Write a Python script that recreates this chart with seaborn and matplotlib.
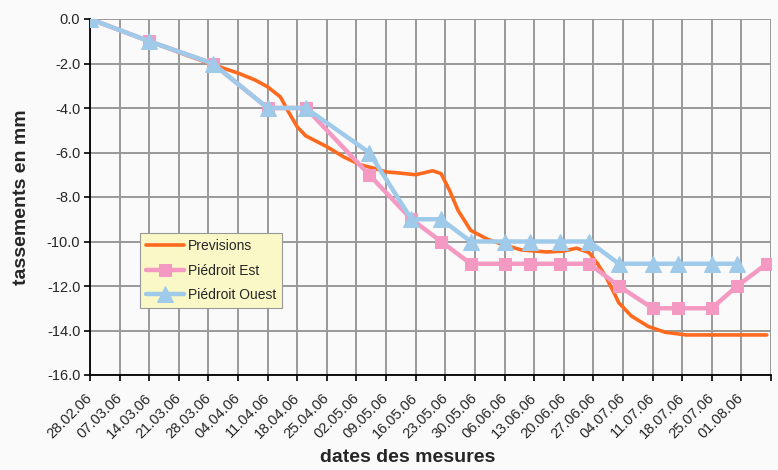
import pandas as pd
import seaborn as sns
import matplotlib.pyplot as plt

# measurement dates (dd.mm.yy)
mesure_dates = ["28.02.06", "14.03.06", "29.03.06", "11.04.06", "20.04.06", "05.05.06",
                "15.05.06", "22.05.06", "29.05.06", "06.06.06", "12.06.06", "19.06.06",
                "26.06.06", "03.07.06", "11.07.06", "17.07.06", "25.07.06", "31.07.06",
                "07.08.06"]
piedroit_est = [0, -1, -2, -4, -4, -7, -9, -10, -11, -11, -11, -11, -11, -12, -13, -13,
                -13, -12, -11]
piedroit_ouest = [0, -1, -2, -4, -4, -6, -9, -9, -10, -10, -10, -10, -10, -11, -11, -11,
                  -11, -11]

# forecast curve
prev_dates = ["28.02.06", "07.03.06", "14.03.06", "21.03.06", "29.03.06", "04.04.06",
              "08.04.06", "11.04.06", "14.04.06", "16.04.06", "18.04.06", "20.04.06",
              "25.04.06", "29.04.06", "03.05.06", "06.05.06", "09.05.06", "12.05.06",
              "16.05.06", "20.05.06", "22.05.06", "24.05.06", "26.05.06", "29.05.06",
              "02.06.06", "06.06.06", "10.06.06", "16.06.06", "20.06.06", "23.06.06",
              "26.06.06", "28.06.06", "30.06.06", "02.07.06", "03.07.06", "06.07.06",
              "10.07.06", "14.07.06", "19.07.06", "26.07.06", "07.08.06"]
previsions = [0, -0.5, -1, -1.5, -2.05, -2.43, -2.74, -3.05, -3.5, -4.2, -4.85, -5.25,
              -5.74, -6.2, -6.56, -6.7, -6.87, -6.92, -7.0, -6.82, -6.95, -7.7, -8.6,
              -9.5, -9.9, -10.16, -10.38, -10.47, -10.43, -10.3, -10.5, -11.0, -11.6,
              -12.35, -12.75, -13.35, -13.82, -14.08, -14.2, -14.2, -14.2]

y_ticks = [0, -2, -4, -6, -8, -10, -12, -14, -16]

to_dt = lambda s: pd.to_datetime(s, format="%d.%m.%y")

sns.set_style("white")
plt.rcParams["font.family"] = ["Liberation Sans", "DejaVu Sans"]

fig = plt.figure(figsize=(7.78, 4.70), dpi=100, facecolor="#fafafa")
ax = fig.add_axes([90 / 778, 1 - 375 / 470, 681 / 778, 356 / 470])
ax.set_facecolor("#fafafa")

orange = "#ff6a1f"
pink = "#f49ac2"
blue = "#9fcaea"

sns.lineplot(x=to_dt(prev_dates), y=previsions, ax=ax, color=orange, lw=2.6,
             label="Previsions", zorder=3)
sns.lineplot(x=to_dt(mesure_dates), y=piedroit_est, ax=ax, color=pink, lw=3.2,
             marker="s", markersize=9, markeredgecolor=pink, label="Piédroit Est", zorder=4)
sns.lineplot(x=to_dt(mesure_dates[:len(piedroit_ouest)]), y=piedroit_ouest, ax=ax,
             color=blue, lw=3.2, marker="^", markersize=11, markeredgecolor=blue,
             label="Piédroit Ouest", zorder=5)

# weekly date axis
weeks = pd.date_range("2006-02-28", "2006-08-08", freq="7D")
ax.set_xlim(weeks[0], weeks[-1])
ax.set_xticks(weeks)
ax.set_xticklabels([d.strftime("%d.%m.%y") for d in weeks[:-1]] + [""],
                   rotation=45, ha="right", va="center", rotation_mode="anchor",
                   fontsize=10.5)
ax.set_ylim(-16, 0)
ax.set_yticks(y_ticks)
ax.set_yticklabels([f"{v:.1f}" for v in y_ticks], fontsize=10.5)

ax.grid(True, color="#999999", lw=1.4)
ax.set_axisbelow(True)
for side in ["top", "right"]:
    ax.spines[side].set_visible(False)
for side in ["left", "bottom"]:
    ax.spines[side].set_color("black")
    ax.spines[side].set_linewidth(1.3)
ax.tick_params(axis="both", direction="out", length=4, width=1.2, color="black",
               left=True, bottom=True, pad=3)
ax.tick_params(axis="x", pad=11)

ax.set_xlabel("dates des mesures", fontsize=14, fontweight="bold")
ax.set_ylabel("tassements en mm", fontsize=14, fontweight="bold")
ax.xaxis.set_label_coords((408 - 90) / 681, (375 - 449) / 356)
ax.yaxis.set_label_coords((30 - 90) / 681, 0.5)

leg = ax.legend(loc="upper left", bbox_to_anchor=((140 - 90) / 681, (375 - 233) / 356),
                borderaxespad=0, fancybox=False, framealpha=1, facecolor="#fbf8c8",
                edgecolor="#999999", fontsize=10, handlelength=2.7, handletextpad=0.3,
                labelspacing=0.75, borderpad=0.45)
leg.get_frame().set_linewidth(0.8)

fig.savefig("out.png", dpi=100, facecolor=fig.get_facecolor())
